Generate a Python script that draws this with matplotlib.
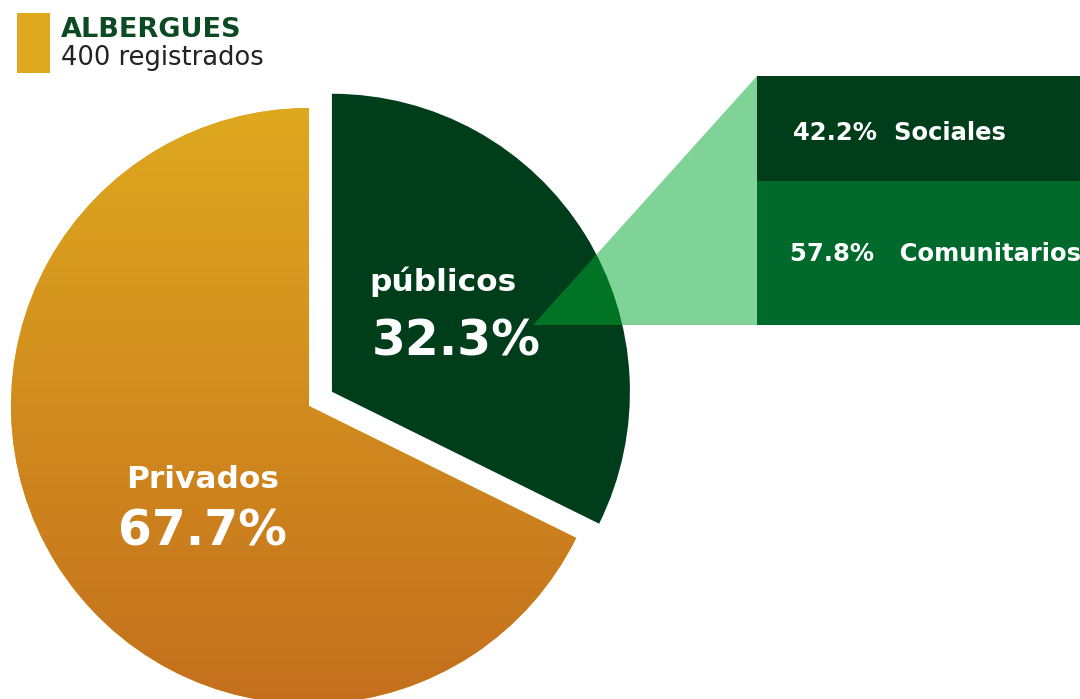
import matplotlib.pyplot as plt
import numpy as np
from matplotlib.colors import LinearSegmentedColormap
from matplotlib.patches import Polygon

# Albergues: privados vs publicos, desglose de publicos
labels = ['Privados', 'públicos']
shares = [67.7, 32.3]
sub_labels = ['Sociales', 'Comunitarios']
sub_shares = [42.2, 57.8]
sub_spacing = ['  ', '   ']
title = 'ALBERGUES'
subtitle = '400 registrados'

gold_top = '#DEA81F'
gold_bot = '#C46F1D'
dark_green = '#003D1A'
mid_green = '#006A2C'
light_green = '#00A931'

plt.rcParams['font.family'] = ['DejaVu Sans']

W, H = 1080, 699
fig = plt.figure(figsize=(W / 100, H / 100), dpi=100)
ax = fig.add_axes([0, 0, 1, 1])

cx, cy, r = 309, H - 406, 298
# explode is in data units here (pixels)
wedges, _ = ax.pie(shares, startangle=90, counterclock=True, center=(cx, cy), radius=r,
                   explode=[0, 27], colors=[gold_top, dark_green],
                   wedgeprops=dict(linewidth=0))

# gradient on the private wedge
cmap = LinearSegmentedColormap.from_list('gold', [gold_bot, gold_top])
grad = np.linspace(0, 1, 256).reshape(-1, 1)
img = ax.imshow(grad, cmap=cmap, origin='lower', aspect='auto',
                extent=(cx - r, cx + r, cy - r, cy + r), zorder=2)
img.set_clip_path(wedges[0])
ax.set_xlim(0, W)
ax.set_ylim(0, H)
ax.set_aspect('equal')
ax.axis('off')

# zoom connector
box_left, box_bot, box_top = 757, H - 325, H - 76
tri = Polygon([(533, box_bot), (box_left, box_top), (box_left, box_bot)],
              closed=True, facecolor=light_green, alpha=0.5, edgecolor='none', zorder=3)
ax.add_patch(tri)

# stacked boxes for publicos
total_h = box_top - box_bot
h_com = total_h * sub_shares[1] / 100
h_soc = total_h * sub_shares[0] / 100
ax.bar(box_left, h_com, bottom=box_bot, width=340, align='edge', color=mid_green, zorder=3)
ax.bar(box_left, h_soc, bottom=box_bot + h_com, width=340, align='edge', color=dark_green, zorder=3)

ax.text(793, H - 133, f'{sub_shares[0]}%{sub_spacing[0]}{sub_labels[0]}',
        color='white', fontsize=17.5, fontweight='bold', ha='left', va='center', zorder=4)
ax.text(790, H - 254, f'{sub_shares[1]}%{sub_spacing[1]}{sub_labels[1]}',
        color='white', fontsize=17.5, fontweight='bold', ha='left', va='center', zorder=4)

# wedge labels
ax.text(443, H - 282, labels[1], color='white', fontsize=22.5, fontweight='bold',
        ha='center', va='center', zorder=4)
ax.text(456, H - 341, f'{shares[1]}%', color='white', fontsize=35, fontweight='bold',
        ha='center', va='center', zorder=4)
ax.text(203, H - 480, labels[0], color='white', fontsize=22.5, fontweight='bold',
        ha='center', va='center', zorder=4)
ax.text(202, H - 532, f'{shares[0]}%', color='white', fontsize=35, fontweight='bold',
        ha='center', va='center', zorder=4)

# legend block
ax.bar(17, 60, bottom=H - 73, width=33, align='edge', color=gold_top, zorder=3)
ax.text(61, H - 37, title, color='#0B4A22', fontsize=19.5, fontweight='bold',
        ha='left', va='baseline', zorder=4)
ax.text(61, H - 65, subtitle, color='#222222', fontsize=18.5,
        ha='left', va='baseline', zorder=4)

fig.savefig('out.png', dpi=100, facecolor='white')
